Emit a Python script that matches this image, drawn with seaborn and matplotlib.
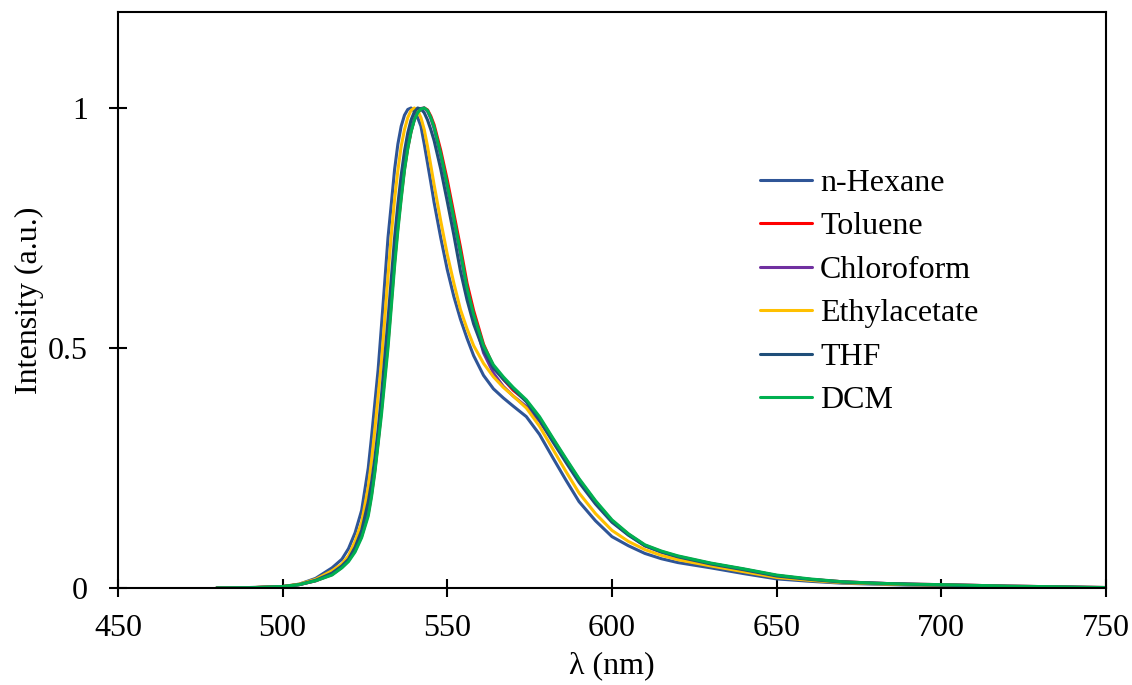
import numpy as np
import pandas as pd
import matplotlib
matplotlib.use("Agg")
import matplotlib.pyplot as plt
import seaborn as sns

# wavelength grid (nm)
wavelength = [480, 490, 500, 505, 510, 515, 518, 520, 522, 524, 526, 527, 528, 529, 530,
              531, 532, 533, 534, 535, 536, 537, 538, 539, 540, 541, 542, 543, 544, 545,
              546, 548, 550, 552, 554, 556, 558, 561, 564, 567, 570, 574, 578, 582, 586,
              590, 595, 600, 605, 610, 615, 620, 630, 640, 650, 660, 670, 680, 690, 700,
              720, 750]

# normalised emission intensity per solvent
hexane = [0, 0.001, 0.003, 0.008, 0.02, 0.042, 0.06, 0.082, 0.115, 0.162, 0.25, 0.315, 0.385, 0.455, 0.545,
          0.637, 0.73, 0.80, 0.872, 0.925, 0.962, 0.985, 0.997, 1.0, 0.993, 0.98, 0.962, 0.925, 0.885, 0.845,
          0.803, 0.73, 0.663, 0.607, 0.56, 0.52, 0.484, 0.443, 0.415, 0.396, 0.379, 0.357, 0.32, 0.272, 0.225,
          0.18, 0.14, 0.107, 0.088, 0.072, 0.061, 0.053, 0.042, 0.03, 0.019, 0.014, 0.01, 0.008, 0.006, 0.005,
          0.003, 0.0]
toluene = [0, 0.0005, 0.003, 0.007, 0.015, 0.028, 0.043, 0.057, 0.078, 0.108, 0.155, 0.195, 0.245, 0.305, 0.37,
           0.44, 0.51, 0.595, 0.68, 0.752, 0.815, 0.873, 0.917, 0.951, 0.976, 0.99, 0.998, 1.0, 0.996, 0.983,
           0.965, 0.912, 0.85, 0.78, 0.71, 0.635, 0.578, 0.508, 0.462, 0.435, 0.412, 0.39, 0.354, 0.311, 0.268,
           0.226, 0.18, 0.14, 0.112, 0.089, 0.076, 0.066, 0.051, 0.039, 0.026, 0.018, 0.013, 0.01, 0.008, 0.007,
           0.004, 0.001]
chloroform = [0, 0.0005, 0.003, 0.007, 0.015, 0.029, 0.044, 0.058, 0.08, 0.112, 0.16, 0.2, 0.25, 0.31, 0.375,
              0.448, 0.52, 0.603, 0.69, 0.76, 0.822, 0.878, 0.92, 0.953, 0.977, 0.992, 0.999, 1.0, 0.993, 0.978,
              0.957, 0.9, 0.835, 0.765, 0.695, 0.62, 0.565, 0.49, 0.448, 0.42, 0.4, 0.378, 0.348, 0.308, 0.266,
              0.224, 0.179, 0.139, 0.111, 0.088, 0.075, 0.065, 0.051, 0.039, 0.026, 0.018, 0.013, 0.01, 0.008, 0.007,
              0.004, 0.001]
ethylacetate = [0, 0.0008, 0.003, 0.008, 0.018, 0.036, 0.05, 0.067, 0.097, 0.137, 0.21, 0.265, 0.33, 0.4, 0.47,
                0.56, 0.65, 0.735, 0.81, 0.87, 0.92, 0.955, 0.98, 0.995, 1.0, 0.995, 0.98, 0.955, 0.92, 0.88,
                0.84, 0.765, 0.695, 0.635, 0.58, 0.54, 0.505, 0.468, 0.44, 0.418, 0.4, 0.375, 0.337, 0.29, 0.243,
                0.198, 0.155, 0.12, 0.097, 0.08, 0.068, 0.059, 0.046, 0.034, 0.022, 0.016, 0.011, 0.009, 0.007, 0.006,
                0.003, 0.0]
thf = [0, 0.0006, 0.003, 0.007, 0.016, 0.031, 0.046, 0.06, 0.085, 0.12, 0.18, 0.22, 0.27, 0.33, 0.4,
       0.48, 0.56, 0.645, 0.73, 0.8, 0.86, 0.91, 0.948, 0.975, 0.992, 1.0, 0.998, 0.99, 0.975, 0.955,
       0.932, 0.873, 0.805, 0.735, 0.66, 0.6, 0.55, 0.495, 0.458, 0.435, 0.415, 0.388, 0.35, 0.305, 0.262,
       0.22, 0.175, 0.137, 0.11, 0.088, 0.075, 0.065, 0.05, 0.038, 0.025, 0.018, 0.012, 0.01, 0.008, 0.006,
       0.003, 0.0005]
dcm = [0, 0.0005, 0.003, 0.007, 0.015, 0.027, 0.042, 0.055, 0.075, 0.105, 0.15, 0.19, 0.24, 0.3, 0.36,
       0.43, 0.5, 0.585, 0.67, 0.745, 0.81, 0.87, 0.915, 0.95, 0.975, 0.99, 0.998, 1.0, 0.995, 0.98,
       0.96, 0.905, 0.84, 0.77, 0.70, 0.625, 0.57, 0.505, 0.465, 0.44, 0.418, 0.392, 0.357, 0.313, 0.27,
       0.228, 0.182, 0.142, 0.113, 0.09, 0.077, 0.067, 0.052, 0.04, 0.027, 0.019, 0.013, 0.01, 0.008, 0.007,
       0.004, 0.001]

solvents = ["n-Hexane", "Toluene", "Chloroform", "Ethylacetate", "THF", "DCM"]
colors = ["#2F5597", "#FF0000", "#7030A0", "#FFC000", "#1F4E79", "#00B050"]

# long-form table for seaborn
series = [hexane, toluene, chloroform, ethylacetate, thf, dcm]
df = pd.concat([pd.DataFrame({"wl": wavelength, "I": s, "solvent": name})
                for name, s in zip(solvents, series)], ignore_index=True)

sns.set_style("ticks")
plt.rcParams['font.family'] = ['Liberation Serif', 'DejaVu Serif']
plt.rcParams.update({"text.color": "black", "axes.labelcolor": "black",
                     "xtick.color": "black", "ytick.color": "black"})

fs = 23

fig = plt.figure(figsize=(11.32, 6.85), dpi=100)
ax = fig.add_axes([0.1042, 0.1416, 0.8728, 0.8409])

sns.lineplot(data=df, x="wl", y="I", hue="solvent", hue_order=solvents,
             palette=dict(zip(solvents, colors)), linewidth=2.2, ax=ax, sort=False)

ax.set_xlim(450, 750)
ax.set_ylim(0, 1.2)
ax.set_xticks([450, 500, 550, 600, 650, 700, 750])
ax.set_yticks([0, 0.5, 1])
ax.set_yticklabels(["0", "0.5", "1"])
ax.tick_params(direction="inout", length=13, width=1.5, labelsize=fs)
ax.tick_params(axis="x", pad=12)
ax.tick_params(axis="y", pad=15)
for sp in ax.spines.values():
    sp.set_linewidth(1.5)
    sp.set_color("black")

ax.set_xlabel("λ (nm)", fontsize=fs, labelpad=6)
ax.set_ylabel("Intensity (a.u.)", fontsize=fs, labelpad=3)

leg = ax.legend(loc="upper left", bbox_to_anchor=(0.65, 0.728), frameon=False,
                fontsize=fs, handlelength=1.63, handletextpad=0.25, labelspacing=0.44,
                borderaxespad=0, borderpad=0)
for line in leg.get_lines():
    line.set_linewidth(2.2)

fig.savefig("out.png", dpi=100)
